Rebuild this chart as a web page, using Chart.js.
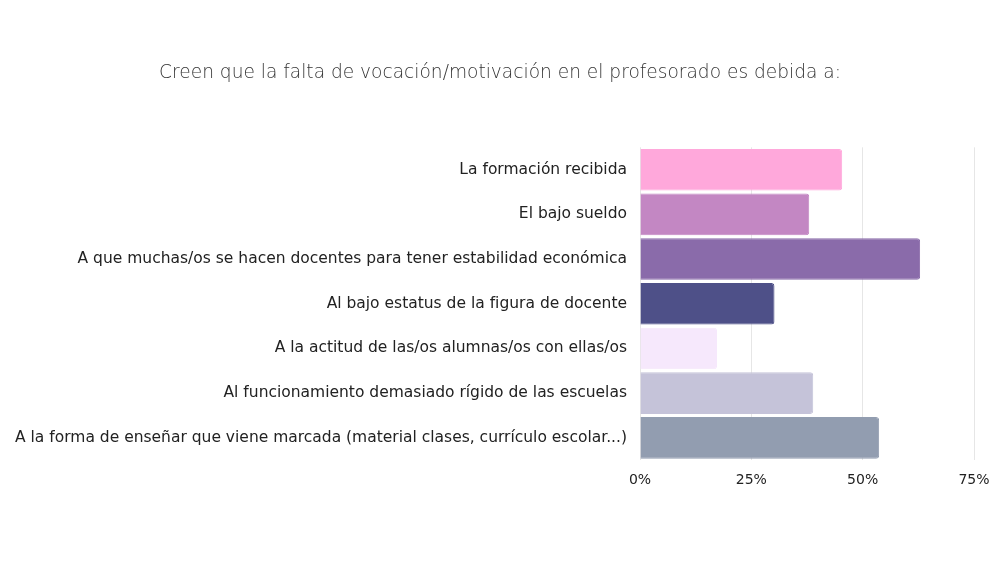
<!DOCTYPE html>
<html lang="es">
<head>
    <meta charset="UTF-8">
    <title>Falta de vocación/motivación en el profesorado</title>
    <style>
        body {
            margin: 0;
            padding: 0;
            background-color: #ffffff;
        }
        .chart-box {
            width: 1000px;
            height: 563px;
        }
    </style>
</head>
<body>

<div class="chart-box">
    <canvas id="barChart"></canvas>
</div>

<script src="https://cdn.jsdelivr.net/npm/chart.js"></script>
<script>
    // Data
    var categories = [
        'La formación recibida',
        'El bajo sueldo',
        'A que muchas/os se hacen docentes para tener estabilidad económica',
        'Al bajo estatus de la figura de docente',
        'A la actitud de las/os alumnas/os con ellas/os',
        'Al funcionamiento demasiado rígido de las escuelas',
        'A la forma de enseñar que viene marcada (material clases, currículo escolar...)'
    ];
    var percentages = [45.4, 38.0, 62.9, 30.2, 17.3, 38.9, 53.7];
    var barColors = ['#ffa8db', '#c387c3', '#8a6baa', '#4e5088', '#f6e8fc', '#c5c3d9', '#929db0'];
    var tickValues = [0, 25, 50, 75];

    var fontFamily = "'DejaVu Sans', sans-serif";

    var ctx = document.getElementById('barChart').getContext('2d');
    var myChart = new Chart(ctx, {
        type: 'bar',
        data: {
            labels: categories,
            datasets: [{
                label: 'Porcentaje',
                data: percentages,
                backgroundColor: barColors,
                borderColor: barColors,
                borderWidth: 1,
                borderRadius: 3,
                borderSkipped: 'start',
                categoryPercentage: 1.0,
                barPercentage: 0.93
            }]
        },
        options: {
            indexAxis: 'y',
            responsive: true,
            maintainAspectRatio: false,
            animation: false,
            layout: {
                padding: { top: 62, right: 0, bottom: 62, left: 0 }
            },
            plugins: {
                legend: { display: false },
                tooltip: { enabled: false },
                title: {
                    display: true,
                    text: 'Creen que la falta de vocación/motivación en el profesorado es debida a:',
                    color: '#333333',
                    font: { family: fontFamily, size: 18.6, weight: '200' },
                    padding: { top: 0, bottom: 63 }
                }
            },
            scales: {
                x: {
                    min: 0,
                    max: 75,
                    afterBuildTicks: function (axis) {
                        axis.ticks = tickValues.map(function (v) { return { value: v }; });
                    },
                    afterFit: function (scale) {
                        scale.paddingRight = 26; // room for the 75% label
                    },
                    grid: { color: '#e6e6e6', drawTicks: false },
                    border: { display: false },
                    ticks: {
                        padding: 12,
                        color: '#222222',
                        font: { family: fontFamily, size: 14 },
                        callback: function (v) { return v + '%'; }
                    }
                },
                y: {
                    afterFit: function (scale) {
                        scale.width = 640; // long labels need more than half the width
                    },
                    grid: { display: false, drawTicks: false },
                    border: { display: false },
                    ticks: {
                        padding: 13,
                        color: '#222222',
                        font: { family: fontFamily, size: 15.5 }
                    }
                }
            }
        }
    });
</script>

</body>
</html>
